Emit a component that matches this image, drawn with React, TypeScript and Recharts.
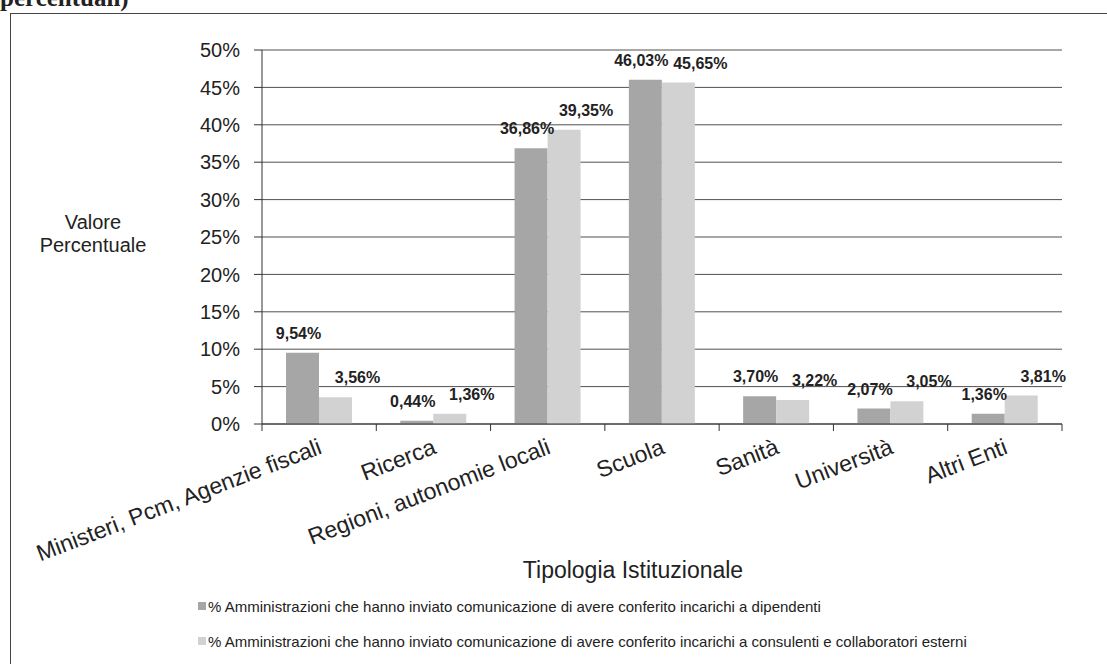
import { BarChart, Bar, XAxis, YAxis, CartesianGrid, Legend, LabelList } from 'recharts';

const categories = [
  'Ministeri, Pcm, Agenzie fiscali',
  'Ricerca',
  'Regioni, autonomie locali',
  'Scuola',
  'Sanità',
  'Università',
  'Altri Enti',
];
const dipendenti = [9.54, 0.44, 36.86, 46.03, 3.7, 2.07, 1.36];
const consulenti = [3.56, 1.36, 39.35, 45.65, 3.22, 3.05, 3.81];
const yTicks = [0, 5, 10, 15, 20, 25, 30, 35, 40, 45, 50];
const seriesNames = [
  '% Amministrazioni che hanno inviato comunicazione di avere conferito incarichi a dipendenti',
  '% Amministrazioni che hanno inviato comunicazione di avere conferito incarichi a consulenti e collaboratori esterni',
];

const data = categories.map((name, i) => ({ name, dip: dipendenti[i], cons: consulenti[i] }));

const FONT = '"Liberation Sans", Arial, sans-serif';
const DARK = '#a6a6a6';
const LIGHT = '#d2d2d2';
const W = 1107;
const H = 664;
const M = { top: 50, right: 45, left: 20, bottom: 0 };
const Y_W = 242;
const BAND = (W - M.left - M.right - Y_W) / categories.length;

const fmt = (v: number) => v.toFixed(2).replace('.', ',') + '%';

function CatTick(props: any) {
  const { x, y, payload, index } = props;
  const ax = x + 4;
  const ay = y + 29;
  return (
    <g>
      <line x1={x - BAND / 2} x2={x - BAND / 2} y1={y} y2={y + 7} stroke="#333" />
      {index === categories.length - 1 && (
        <line x1={x + BAND / 2} x2={x + BAND / 2} y1={y} y2={y + 7} stroke="#333" />
      )}
      <text
        x={ax}
        y={ay}
        textAnchor="end"
        transform={`rotate(-21, ${ax}, ${ay})`}
        fontFamily={FONT}
        fontSize={23}
        fill="#222"
      >
        {payload.value}
      </text>
    </g>
  );
}

function makeLabel(dx: number) {
  return (props: any) => {
    const { x, y, width, value } = props;
    return (
      <text
        x={x + width / 2 + dx}
        y={y - 14}
        textAnchor="middle"
        fontFamily={FONT}
        fontSize={16}
        fontWeight="bold"
        fill="#222"
      >
        {fmt(value)}
      </text>
    );
  };
}

function YTitle() {
  return (
    <text x={93} textAnchor="middle" fontFamily={FONT} fontSize={20} fill="#222">
      <tspan x={93} y={229}>Valore</tspan>
      <tspan x={93} y={252}>Percentuale</tspan>
    </text>
  );
}

function LegendBox() {
  const colors = [DARK, LIGHT];
  return (
    <div style={{ fontFamily: FONT, fontSize: 15, color: '#222' }}>
      {seriesNames.map((n, i) => (
        <div key={n} style={{ display: 'flex', alignItems: 'center', height: 18, marginBottom: 17 }}>
          <span style={{ width: 8, height: 8, background: colors[i], marginRight: 2, display: 'inline-block' }} />
          <span>{n}</span>
        </div>
      ))}
    </div>
  );
}

export default function App() {
  return (
    <div style={{ position: 'absolute', left: 0, top: 0, width: W, height: H, overflow: 'hidden', background: '#fff' }}>
      <div
        style={{
          position: 'absolute',
          left: 0,
          top: -16,
          fontFamily: '"Liberation Serif", serif',
          fontWeight: 'bold',
          fontSize: 25,
          color: '#222',
        }}
      >
        percentuali)
      </div>
      <div
        style={{
          position: 'absolute',
          left: 10,
          top: 13,
          width: 1120,
          height: 680,
          border: '1px solid #444',
          boxSizing: 'border-box',
        }}
      />
      <div style={{ position: 'absolute', left: 0, top: 0 }}>
        <BarChart width={W} height={H} data={data} margin={M} barCategoryGap="21%" barGap={0}>
          <CartesianGrid vertical={false} stroke="#333" strokeOpacity={0.85} />
          <XAxis
            dataKey="name"
            height={240}
            interval={0}
            tickSize={0}
            tickMargin={0}
            tickLine={false}
            axisLine={{ stroke: '#333' }}
            tick={<CatTick />}
            label={{
              value: 'Tipologia Istituzionale',
              position: 'insideBottom',
              offset: 86,
              dx: -29,
              style: { fontFamily: FONT, fontSize: 23, fill: '#222' },
            }}
          />
          <YAxis
            width={Y_W}
            domain={[0, 50]}
            ticks={yTicks}
            interval={0}
            tickFormatter={(v: number) => `${v}%`}
            tickSize={8}
            tickMargin={14}
            tick={{ fontFamily: FONT, fontSize: 20, fill: '#222' }}
            axisLine={{ stroke: '#333' }}
            tickLine={{ stroke: '#333' }}
            label={{ content: () => <YTitle /> }}
          />
          <YAxis
            yAxisId="r"
            orientation="right"
            width={0}
            domain={[0, 50]}
            tick={false}
            tickLine={false}
            axisLine={{ stroke: '#333' }}
          />
          <Legend
            layout="vertical"
            align="center"
            verticalAlign="middle"
            content={() => <LegendBox />}
            wrapperStyle={{ left: 198, top: 597, width: 900 }}
          />
          <Bar dataKey="dip" name={seriesNames[0]} fill={DARK} isAnimationActive={false}>
            <LabelList dataKey="dip" content={makeLabel(-4)} />
          </Bar>
          <Bar dataKey="cons" name={seriesNames[1]} fill={LIGHT} isAnimationActive={false}>
            <LabelList dataKey="cons" content={makeLabel(22)} />
          </Bar>
        </BarChart>
      </div>
    </div>
  );
}
